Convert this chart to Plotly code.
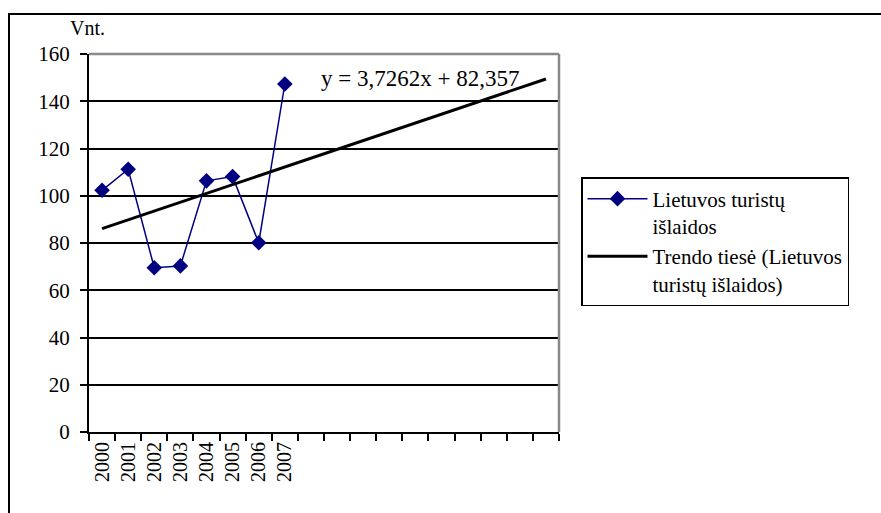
import numpy as np
import plotly.graph_objects as go

# Lietuvos turistų išlaidos, 2000–2007
years = ["2000", "2001", "2002", "2003", "2004", "2005", "2006", "2007"]
spending = [102.3, 111.2, 69.5, 70.3, 106.3, 108.1, 80.1, 147.3]

# Linear trend y = a*x + b (x = 1, 2, ...), projected over 18 periods
trend_slope = 3.7262
trend_intercept = 82.357
n_periods = 18

y_ticks = [0, 20, 40, 60, 80, 100, 120, 140, 160]

FONT = "Liberation Serif"
NAVY = "#000080"

x_idx = np.arange(1, len(years) + 1)
x_trend = np.array([1, n_periods])
y_trend = trend_slope * x_trend + trend_intercept

fig = go.Figure()
fig.add_trace(go.Scatter(
    x=x_idx, y=spending, mode="lines+markers",
    name="Lietuvos turistų<br>išlaidos",
    line=dict(color=NAVY, width=1.5),
    marker=dict(symbol="diamond", size=12, color=NAVY),
))
fig.add_trace(go.Scatter(
    x=x_trend, y=y_trend, mode="lines",
    name="Trendo tiesė (Lietuvos<br>turistų išlaidos)",
    line=dict(color="black", width=3),
))

W, H = 881, 513
L, R, T, B = 89, 559, 54, 432   # plot area edges in pixels


def px_x(p):
    return (p - L) / (R - L)


def px_y(p):
    return (B - p) / (B - T)


fig.update_layout(
    width=W, height=H,
    margin=dict(l=L, r=W - R, t=T, b=H - B, pad=0),
    paper_bgcolor="white", plot_bgcolor="white",
    font=dict(family=FONT, size=20, color="black"),
    showlegend=True,
    legend=dict(
        x=px_x(581), y=px_y(177), xanchor="left", yanchor="top",
        bordercolor="black", borderwidth=1.5, bgcolor="white",
        font=dict(family=FONT, size=21, color="black"),
        itemwidth=60, valign="top", tracegroupgap=9,
    ),
    xaxis=dict(
        range=[0.5, n_periods + 0.5],
        tickmode="array", tickvals=list(x_idx), ticktext=years,
        tickangle=-90, ticks="", showgrid=False, zeroline=False,
        showline=True, linecolor="black", linewidth=2,
        tickfont=dict(family=FONT, size=20, color="black"),
        minor=dict(tickmode="array", tickvals=list(np.arange(0.5, n_periods + 1, 1.0)),
                   ticks="outside", ticklen=7, tickwidth=2, tickcolor="black",
                   showgrid=False),
    ),
    yaxis=dict(
        range=[0, 160], tickmode="array", tickvals=y_ticks,
        ticks="outside", ticklen=7, tickwidth=2, tickcolor="black",
        showgrid=True, gridcolor="black", gridwidth=1.5, zeroline=False,
        showline=True, linecolor="black", linewidth=2,
        tickfont=dict(family=FONT, size=21, color="black"), ticklabelstandoff=6,
    ),
    shapes=[
        # plot-area border (top and right)
        dict(type="line", xref="paper", yref="paper", x0=0, x1=1, y0=1, y1=1,
             line=dict(color="#888888", width=2.5), layer="above"),
        dict(type="line", xref="paper", yref="paper", x0=1, x1=1, y0=0, y1=1,
             line=dict(color="#888888", width=2.5), layer="above"),
        # chart frame
        dict(type="rect", xref="paper", yref="paper",
             x0=px_x(9), x1=px_x(W + 20), y0=px_y(H + 20), y1=px_y(14),
             line=dict(color="black", width=2), layer="below"),
    ],
    annotations=[
        dict(text="Vnt.", xref="paper", yref="paper", x=px_x(87), y=px_y(28),
             xanchor="center", yanchor="middle", showarrow=False,
             font=dict(family=FONT, size=20, color="black")),
        dict(text="y = 3,7262x + 82,357", xref="paper", yref="paper",
             x=px_x(420), y=px_y(78), xanchor="center", yanchor="middle",
             showarrow=False, font=dict(family=FONT, size=23, color="black")),
    ],
)

fig.write_html("out.html")
